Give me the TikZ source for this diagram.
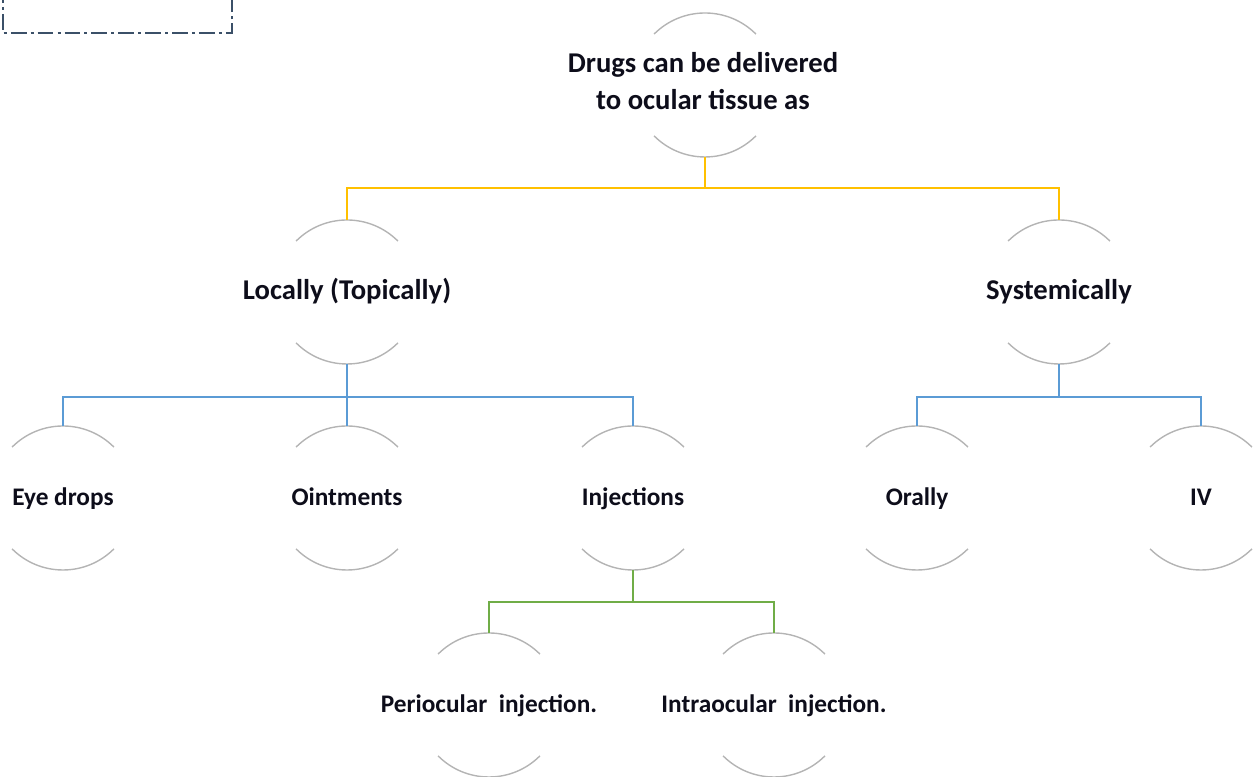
\documentclass[tikz,border=0pt]{standalone}
\usepackage{fontspec}
\setmainfont{Carlito}
\usepackage{tikz}
\usetikzlibrary{positioning}
\definecolor{rimgrey}{HTML}{B4B4B4}
\definecolor{officegold}{HTML}{FFC000}
\definecolor{officeblue}{HTML}{5B9BD5}
\definecolor{officegreen}{HTML}{70AD47}
\definecolor{slateframe}{HTML}{3B5068}
\definecolor{inkdark}{HTML}{0D0D1A}
\tikzstyle{bubbletext} = [
    inner sep=0pt,
    align=center,
    text=inkdark,
    text height=2.0ex,
    text depth=0.2ex,
    font=\fontsize{16.3}{21}\selectfont\bfseries
]
\tikzstyle{bubblesmall} = [
    bubbletext,
    font=\fontsize{14.4}{18}\selectfont\bfseries
]
\tikzstyle{rim} = [
    draw=rimgrey,
    line width=0.8pt
]
\tikzstyle{goldline} = [
    draw=officegold,
    line width=1.2pt
]
\tikzstyle{blueline} = [
    draw=officeblue,
    line width=1.2pt
]
\tikzstyle{greenline} = [
    draw=officegreen,
    line width=1.2pt
]
\tikzstyle{dashbox} = [
    draw=slateframe,
    line width=1.1pt,
    dash pattern=on 9pt off 2.3pt on 1.7pt off 2.3pt
]
\newcommand{\rimr}{1.44cm}

\begin{document}
\begin{tikzpicture}
        \useasboundingbox (0,0) rectangle (25.08,15.54);
        \draw[dashbox] (0.06,15.8) |- (4.64,14.88) -- (4.64,15.8);

        \node (root) [bubbletext, text height=, text depth=] at (14.06,13.92) {Drugs can be delivered\\to ocular tissue as};
        \node (local) [bubbletext] at (6.94,9.70) {Locally (Topically)};
        \node (sys) [bubbletext] at (21.18,9.70) {Systemically};
        \node (eyedrops) [bubblesmall] at (1.26,5.58) {Eye drops};
        \node (ointments) [bubblesmall] at (6.94,5.58) {Ointments};
        \node (injections) [bubblesmall] at (12.66,5.58) {Injections};
        \node (orally) [bubblesmall] at (18.34,5.58) {Orally};
        \node (iv) [bubblesmall] at (24.02,5.58) {IV};
        \node (periocular) [bubblesmall] at (9.78,1.44) {Periocular\ \ injection.};
        \node (intraocular) [bubblesmall] at (15.48,1.44) {Intraocular\ \ injection.};

        \foreach \n in {local,sys,eyedrops,ointments,injections,orally,iv,periocular,intraocular} {
            \draw[rim] ([shift={(135:\rimr)}]\n.center) arc[start angle=135, end angle=45, radius=\rimr];
            \draw[rim] ([shift={(225:\rimr)}]\n.center) arc[start angle=225, end angle=315, radius=\rimr];
        }
        \draw[rim] (14.10,13.84) ++(135:\rimr) arc[start angle=135, end angle=45, radius=\rimr];
        \draw[rim] (14.10,13.84) ++(225:\rimr) arc[start angle=225, end angle=315, radius=\rimr];
        \coordinate (rootfoot) at (14.10,12.40);

        \draw[goldline] (rootfoot) -- ++(0,-0.62) -| ([yshift=\rimr]local.center);
        \draw[goldline] (rootfoot) -- ++(0,-0.62) -| ([yshift=\rimr]sys.center);
        \draw[blueline] ([yshift=-\rimr]local.center) -- ++(0,-0.66) -| ([yshift=\rimr]eyedrops.center);
        \draw[blueline] ([yshift=-\rimr]local.center) -- ++(0,-0.66) -| ([yshift=\rimr]ointments.center);
        \draw[blueline] ([yshift=-\rimr]local.center) -- ++(0,-0.66) -| ([yshift=\rimr]injections.center);
        \draw[blueline] ([yshift=-\rimr]sys.center) -- ++(0,-0.66) -| ([yshift=\rimr]orally.center);
        \draw[blueline] ([yshift=-\rimr]sys.center) -- ++(0,-0.66) -| ([yshift=\rimr]iv.center);
        \draw[greenline] ([yshift=-\rimr]injections.center) -- ++(0,-0.64) -| ([yshift=\rimr]periocular.center);
        \draw[greenline] ([yshift=-\rimr]injections.center) -- ++(0,-0.64) -| ([yshift=\rimr]intraocular.center);
    \end{tikzpicture}
\end{document}
